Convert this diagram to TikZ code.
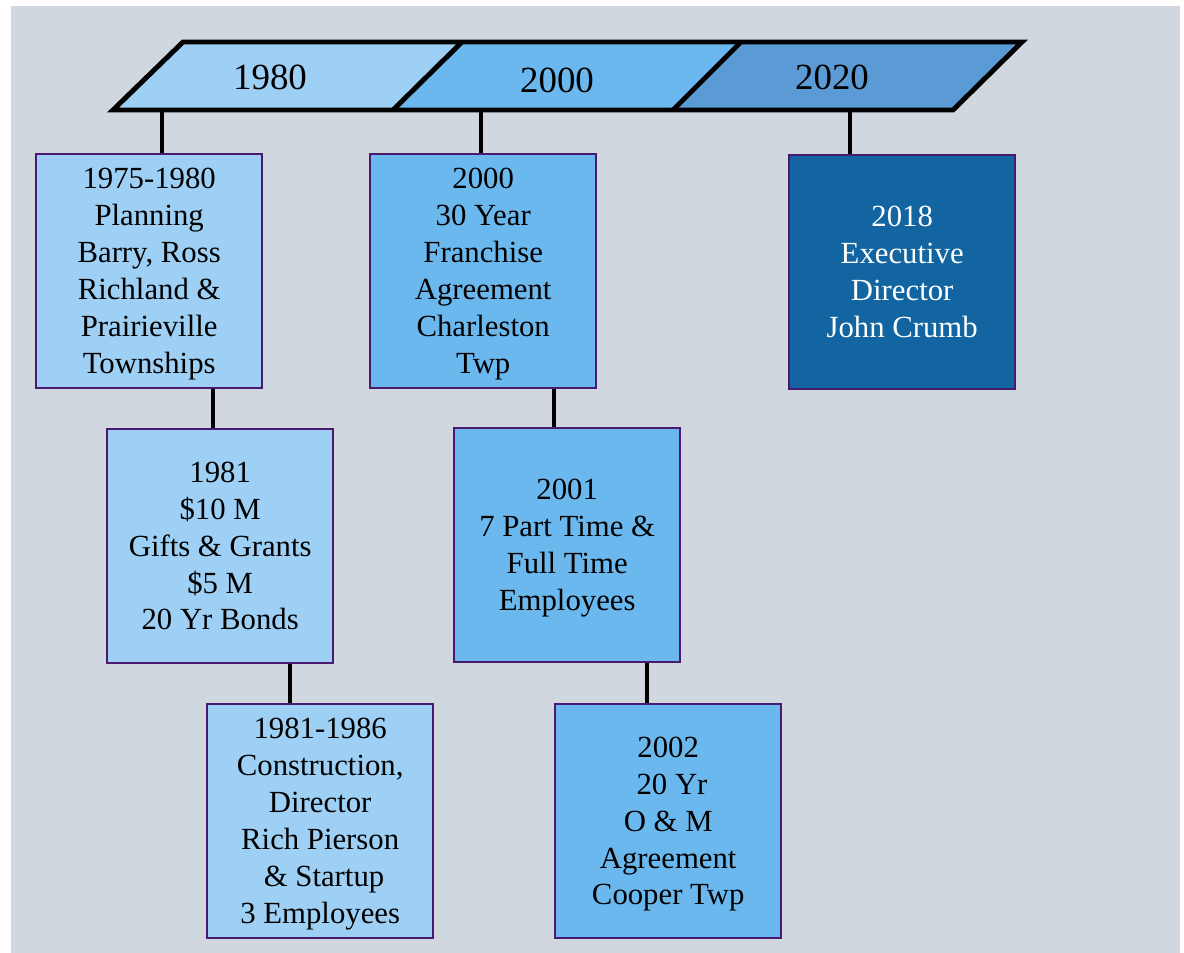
\documentclass[tikz,border=0pt]{standalone}
\usepackage{fontspec}
\setmainfont{Liberation Serif}
\definecolor{bggray}{HTML}{D0D7DF}
\definecolor{lightblue}{HTML}{9DD0F4}
\definecolor{midblue}{HTML}{6BB8EE}
\definecolor{steelblue}{HTML}{5B9BD5}
\definecolor{darkblue}{HTML}{1265A1}
\definecolor{boxborder}{HTML}{4A1A70}
\begin{document}
\begin{tikzpicture}[x=0.02cm,y=-0.02cm,
  evbox/.style={draw=boxborder, line width=1.1pt, minimum width=4.53cm, minimum height=4.68cm,
    anchor=north west, align=center, inner sep=0pt, text=black, text depth=0pt,
    font=\fontsize{17.5}{21}\selectfont},
  lightbox/.style={evbox, fill=lightblue},
  midbox/.style={evbox, fill=midblue},
  darkbox/.style={evbox, fill=darkblue, text=white},
  yearlabel/.style={font=\fontsize{21}{25}\selectfont, inner sep=0pt},
  para/.style={draw=black, line width=2.8pt, line join=miter},
  link/.style={draw=black, line width=2.3pt}]
\useasboundingbox (0,0) rectangle (1184,953);
\fill[white] (0,0) rectangle (1184,953);
\fill[bggray] (11,6) rectangle (1180,953);

% timeline parallelograms
\fill[lightblue] (113,110) -- (183,42) -- (462,42) -- (393,110) -- cycle;
\fill[midblue] (393,110) -- (462,42) -- (741,42) -- (673,110) -- cycle;
\fill[steelblue] (673,110) -- (741,42) -- (1022,42) -- (953,110) -- cycle;
\draw[para] (113,110) -- (183,42) -- (1022,42) -- (953,110) -- cycle;
\draw[para] (393,110) -- (462,42);
\draw[para] (673,110) -- (741,42);
\node[yearlabel] (y1980) at (270,77) {1980};
\node[yearlabel] (y2000) at (557,80) {2000};
\node[yearlabel] (y2020) at (832,77) {2020};
\coordinate (p1980) at (162,110);
\coordinate (p2000) at (481,110);
\coordinate (p2020) at (850,110);

% boxes
\node[lightbox] (a1) at (35,153) {1975-1980\\Planning\\Barry, Ross\\Richland \&\\Prairieville\\Townships};
\node[lightbox] (a2) at (106,428) {1981\\\$10 M\\Gifts \& Grants\\\$5 M\\20 Yr Bonds};
\node[lightbox] (a3) at (206,703) {1981-1986\\Construction,\\Director\\Rich Pierson\\\hspace*{0.25em}\& Startup\\3 Employees};
\node[midbox] (b1) at (369,153) {2000\\30 Year\\Franchise\\Agreement\\Charleston\\Twp};
\node[midbox] (b2) at (453,427) {2001\\7 Part Time \&\\Full Time\\Employees};
\node[midbox] (b3) at (554,703) {2002\\\hspace*{0.25em}20 Yr\\O \& M\\Agreement\\Cooper Twp};
\node[darkbox] (c1) at (788,154) {2018\\Executive\\Director\\John Crumb};

% connectors
\draw[link] (p1980) -- (p1980 |- a1.north);
\draw[link] (p2000) -- (p2000 |- b1.north);
\draw[link] (p2020) -- (p2020 |- c1.north);
\coordinate (ca1) at (213,0);
\draw[link] (ca1 |- a1.south) -- (ca1 |- a2.north);
\coordinate (ca2) at (290,0);
\draw[link] (ca2 |- a2.south) -- (ca2 |- a3.north);
\coordinate (cb1) at (554,0);
\draw[link] (cb1 |- b1.south) -- (cb1 |- b2.north);
\coordinate (cb2) at (647,0);
\draw[link] (cb2 |- b2.south) -- (cb2 |- b3.north);
\end{tikzpicture}
\end{document}
